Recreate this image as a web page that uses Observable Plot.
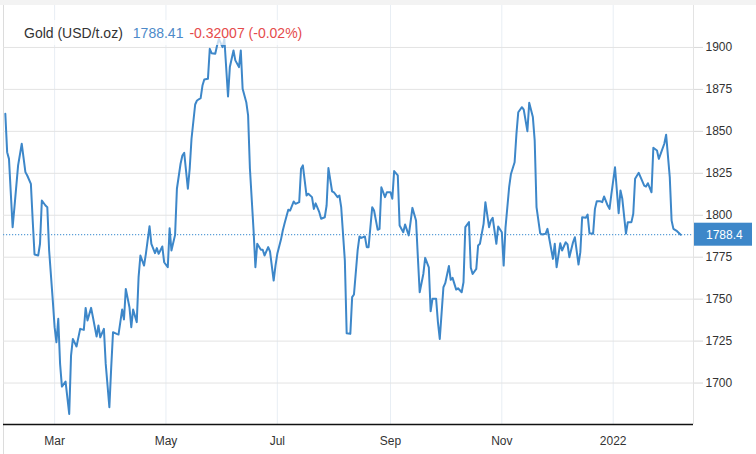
<!DOCTYPE html>
<html>
<head>
<meta charset="utf-8">
<script src="https://cdn.jsdelivr.net/npm/d3@7"></script>
<script src="https://cdn.jsdelivr.net/npm/@observablehq/plot@0.6"></script>
<style>
  html, body { margin: 0; padding: 0; background: #fff; }
  #wrap { position: relative; width: 756px; height: 454px; overflow: hidden; font-family: "Liberation Sans", Arial, sans-serif; }
  #topband { position: absolute; left: 0; top: 0; width: 756px; height: 5px; background: #f3f3f3; }
  #leftline { position: absolute; left: 3px; top: 5px; width: 1px; height: 449px; background: #dcdcdc; }
  #title { position: absolute; left: 16px; top: 20px; padding: 4px 8px 3px 8px; background: rgba(255,255,255,0.72); font-size: 14px; line-height: 18px; white-space: nowrap; }
  #title .name { color: #333; }
  #title .last { color: #4d8ac9; margin-left: 10px; }
  #title .chg { color: #e54b4b; margin-left: 6px; }
  svg { position: absolute; left: 0; top: 0; }
</style>
</head>
<body>
<div id="wrap">
  <div id="topband"></div>
  <div id="leftline"></div>
</div>
<script>
const seriesName = "Gold (USD/t.oz)";
const lastLabel = "1788.41";
const changeLabel = "-0.32007 (-0.02%)";
const priceTag = "1788.4";

const dates = [
"2021-02-02","2021-02-03","2021-02-04","2021-02-06","2021-02-07","2021-02-09","2021-02-11","2021-02-13","2021-02-14","2021-02-16",
"2021-02-17","2021-02-18","2021-02-20","2021-02-21","2021-02-22","2021-02-24","2021-02-25","2021-02-26","2021-02-28","2021-03-01",
"2021-03-02","2021-03-03","2021-03-04","2021-03-05","2021-03-07","2021-03-09","2021-03-10","2021-03-11","2021-03-13","2021-03-15",
"2021-03-17","2021-03-18","2021-03-19","2021-03-21","2021-03-22","2021-03-24","2021-03-25","2021-03-26","2021-03-28","2021-03-29",
"2021-03-31","2021-04-01","2021-04-02","2021-04-04","2021-04-05","2021-04-07","2021-04-08","2021-04-09","2021-04-11","2021-04-12",
"2021-04-13","2021-04-15","2021-04-16","2021-04-17","2021-04-19","2021-04-20","2021-04-22","2021-04-23","2021-04-25","2021-04-26",
"2021-04-27","2021-04-29","2021-04-30","2021-05-02","2021-05-03","2021-05-04","2021-05-06","2021-05-07","2021-05-09","2021-05-10",
"2021-05-11","2021-05-13","2021-05-14","2021-05-15","2021-05-17","2021-05-18","2021-05-20","2021-05-21","2021-05-22","2021-05-24",
"2021-05-25","2021-05-26","2021-05-28","2021-05-29","2021-05-30","2021-06-01","2021-06-02","2021-06-04","2021-06-05","2021-06-07",
"2021-06-08","2021-06-10","2021-06-11","2021-06-12","2021-06-14","2021-06-15","2021-06-16","2021-06-18","2021-06-19","2021-06-20",
"2021-06-22","2021-06-23","2021-06-24","2021-06-26","2021-06-27","2021-06-29","2021-06-30","2021-07-01","2021-07-03","2021-07-04",
"2021-07-05","2021-07-07","2021-07-08","2021-07-10","2021-07-11","2021-07-13","2021-07-14","2021-07-15","2021-07-17","2021-07-18",
"2021-07-20","2021-07-21","2021-07-22","2021-07-24","2021-07-25","2021-07-27","2021-07-28","2021-07-29","2021-07-31","2021-08-01",
"2021-08-03","2021-08-04","2021-08-05","2021-08-07","2021-08-08","2021-08-10","2021-08-11","2021-08-12","2021-08-14","2021-08-15",
"2021-08-16","2021-08-18","2021-08-19","2021-08-20","2021-08-22","2021-08-23","2021-08-25","2021-08-26","2021-08-27","2021-08-29",
"2021-08-30","2021-09-01","2021-09-02","2021-09-03","2021-09-05","2021-09-06","2021-09-08","2021-09-09","2021-09-11","2021-09-12",
"2021-09-13","2021-09-15","2021-09-16","2021-09-17","2021-09-19","2021-09-20","2021-09-22","2021-09-23","2021-09-24","2021-09-26",
"2021-09-27","2021-09-28","2021-09-30","2021-10-01","2021-10-03","2021-10-04","2021-10-05","2021-10-07","2021-10-08","2021-10-10",
"2021-10-11","2021-10-12","2021-10-14","2021-10-15","2021-10-16","2021-10-18","2021-10-19","2021-10-20","2021-10-22","2021-10-23",
"2021-10-25","2021-10-26","2021-10-27","2021-10-29","2021-10-30","2021-11-01","2021-11-02","2021-11-03","2021-11-05","2021-11-06",
"2021-11-08","2021-11-09","2021-11-10","2021-11-12","2021-11-13","2021-11-15","2021-11-16","2021-11-18","2021-11-19","2021-11-20",
"2021-11-22","2021-11-23","2021-11-25","2021-11-26","2021-11-27","2021-11-29","2021-11-30","2021-12-01","2021-12-03","2021-12-04",
"2021-12-06","2021-12-07","2021-12-08","2021-12-10","2021-12-11","2021-12-13","2021-12-14","2021-12-15","2021-12-17","2021-12-18",
"2021-12-19","2021-12-21","2021-12-22","2021-12-23","2021-12-25","2021-12-26","2021-12-27","2021-12-29","2021-12-30","2021-12-31",
"2022-01-02","2022-01-04","2022-01-05","2022-01-06","2022-01-08","2022-01-09","2022-01-11","2022-01-12","2022-01-13","2022-01-15",
"2022-01-16","2022-01-18","2022-01-19","2022-01-20","2022-01-22","2022-01-23","2022-01-25","2022-01-26","2022-01-27","2022-01-29",
"2022-01-30","2022-02-01","2022-02-02","2022-02-03","2022-02-05","2022-02-07"
];

const values = [
1860.5,1837.6,1833.6,1792.9,1804.8,1829.7,1842.6,1825.7,1823.7,1818.7,
1796.9,1776.6,1776.0,1783.0,1808.8,1805.8,1804.8,1779.0,1749.2,1733.3,
1724.3,1738.3,1711.4,1697.9,1700.9,1681.6,1716.4,1726.3,1721.8,1732.3,
1731.7,1744.8,1737.3,1744.8,1739.2,1727.7,1734.3,1727.3,1732.3,1711.4,
1685.6,1709.2,1730.3,1729.3,1728.9,1743.8,1737.9,1756.1,1745.2,1733.3,
1743.8,1736.3,1763.1,1776.0,1770.0,1777.0,1793.5,1783.0,1777.4,1780.4,
1777.0,1781.4,1772.0,1769.0,1792.3,1779.0,1788.3,1815.8,1830.7,1835.6,
1837.2,1815.8,1827.7,1845.6,1866.0,1868.4,1869.8,1877.3,1880.9,1881.3,
1899.2,1896.6,1896.2,1901.2,1905.0,1900.2,1905.0,1870.8,1888.3,1898.2,
1892.3,1888.3,1898.2,1875.4,1867.4,1859.5,1827.7,1790.9,1769.0,1783.0,
1779.4,1779.4,1776.0,1781.0,1778.4,1761.1,1770.0,1777.0,1785.5,1790.9,
1795.3,1803.3,1802.8,1808.2,1806.8,1807.8,1827.7,1829.7,1811.8,1812.8,
1810.8,1803.8,1807.1,1801.8,1797.9,1798.8,1805.8,1828.1,1814.3,1813.7,
1810.8,1811.8,1804.8,1773.0,1729.7,1729.3,1751.2,1752.8,1779.0,1787.3,
1786.5,1787.3,1781.0,1781.0,1804.8,1802.8,1791.3,1791.9,1816.7,1810.8,
1813.7,1813.7,1809.8,1826.3,1823.7,1793.9,1789.9,1794.5,1788.0,1795.9,
1804.4,1796.9,1775.0,1754.1,1765.0,1774.6,1769.0,1742.8,1750.2,1750.2,
1736.2,1726.3,1757.1,1759.5,1769.8,1761.5,1762.7,1755.7,1756.5,1754.1,
1760.1,1792.9,1795.9,1768.7,1765.0,1768.0,1782.0,1783.0,1794.9,1807.8,
1792.9,1796.9,1798.5,1783.0,1793.3,1789.9,1770.0,1792.5,1816.7,1824.6,
1831.6,1848.5,1861.4,1864.4,1862.9,1850.1,1867.0,1858.5,1844.6,1804.8,
1789.3,1788.5,1789.0,1791.9,1786.0,1774.0,1783.0,1769.0,1783.3,1779.0,
1783.9,1782.6,1775.0,1783.9,1786.9,1770.6,1778.0,1798.8,1798.5,1800.4,
1789.3,1789.0,1803.8,1808.3,1808.3,1807.8,1811.2,1805.8,1803.8,1812.4,
1828.6,1801.2,1814.8,1809.8,1789.0,1795.9,1795.9,1800.9,1821.7,1825.3,
1822.7,1817.7,1817.1,1819.1,1813.7,1840.2,1838.6,1833.6,1836.6,1842.6,
1848.0,1822.7,1796.9,1791.9,1790.5,1788.41
];

const xTickDates = ["2021-03-01","2021-05-01","2021-07-01","2021-09-01","2021-11-01","2022-01-01"];
const xTickLabels = ["Mar","May","Jul","Sep","Nov","2022"];
const yTicks = [1700, 1725, 1750, 1775, 1800, 1825, 1850, 1875, 1900];

const xDomain = [new Date("2021-02-01"), new Date("2022-02-14")];
const yDomain = [1675.3, 1925];
const lastValue = values[values.length - 1];

const data = dates.map((d, i) => ({date: new Date(d), value: values[i]}));
const xTicks = xTickDates.map(d => new Date(d));
const labelFor = new Map(xTickDates.map((d, i) => [+new Date(d), xTickLabels[i]]));

const chart = Plot.plot({
  width: 756,
  height: 454,
  marginTop: 5,
  marginBottom: 30,
  marginLeft: 3,
  marginRight: 63,
  style: {fontFamily: "'Liberation Sans', Arial, sans-serif", fontSize: "12px", color: "#333", background: "transparent", overflow: "visible"},
  x: {type: "utc", domain: xDomain},
  y: {domain: yDomain},
  marks: [
    Plot.gridX(xTicks, {stroke: "#e8eef4", strokeOpacity: 1}),
    Plot.gridY(yTicks, {stroke: "#e3e3e3", strokeOpacity: 1}),
    Plot.ruleX([xDomain[1]], {stroke: "#e3e3e3", y1: yDomain[0], y2: yDomain[1]}),
    Plot.ruleY([lastValue], {stroke: "#5d9fd8", strokeDasharray: "1.2,1.8", strokeWidth: 1.2}),
    Plot.line(data, {x: "date", y: "value", stroke: "#3d87c9", strokeWidth: 2, strokeLinejoin: "round"}),
    Plot.ruleY([yDomain[0]], {stroke: "#111", strokeWidth: 1.5}),
    Plot.axisY(yTicks, {anchor: "right", tickSize: 9, tickPadding: 3, stroke: "#d8d8d8", fill: "#333", label: null, fontSize: 12, tickFormat: d => String(d)}),
    Plot.axisX(xTicks, {anchor: "bottom", tickSize: 0, tickPadding: 12, tickFormat: d => labelFor.get(+d), fill: "#333", label: null, fontSize: 12})
  ]
});

const wrap = document.getElementById("wrap");
wrap.appendChild(chart);

// current price tag on the right axis, positioned by the chart's own scales
const ys = chart.scale("y");
const xs = chart.scale("x");
const yy = ys.apply(lastValue);
const xr = xs.apply(xDomain[1]);
const svg = d3.select(chart);
const g = svg.append("g");
g.append("rect").attr("x", xr + 1).attr("y", yy - 11.5).attr("width", 58).attr("height", 23).attr("fill", "#3d87c9");
g.append("text").attr("x", xr + 13).attr("y", yy + 4.5).attr("fill", "#fff").attr("text-anchor", "start")
  .attr("font-family", "'Liberation Sans', Arial, sans-serif").attr("font-size", 12).text(priceTag);

// title overlay
const title = document.createElement("div");
title.id = "title";
title.innerHTML = `<span class="name"></span><span class="last"></span><span class="chg"></span>`;
title.querySelector(".name").textContent = seriesName;
title.querySelector(".last").textContent = lastLabel;
title.querySelector(".chg").textContent = changeLabel;
wrap.appendChild(title);
</script>
</body>
</html>
